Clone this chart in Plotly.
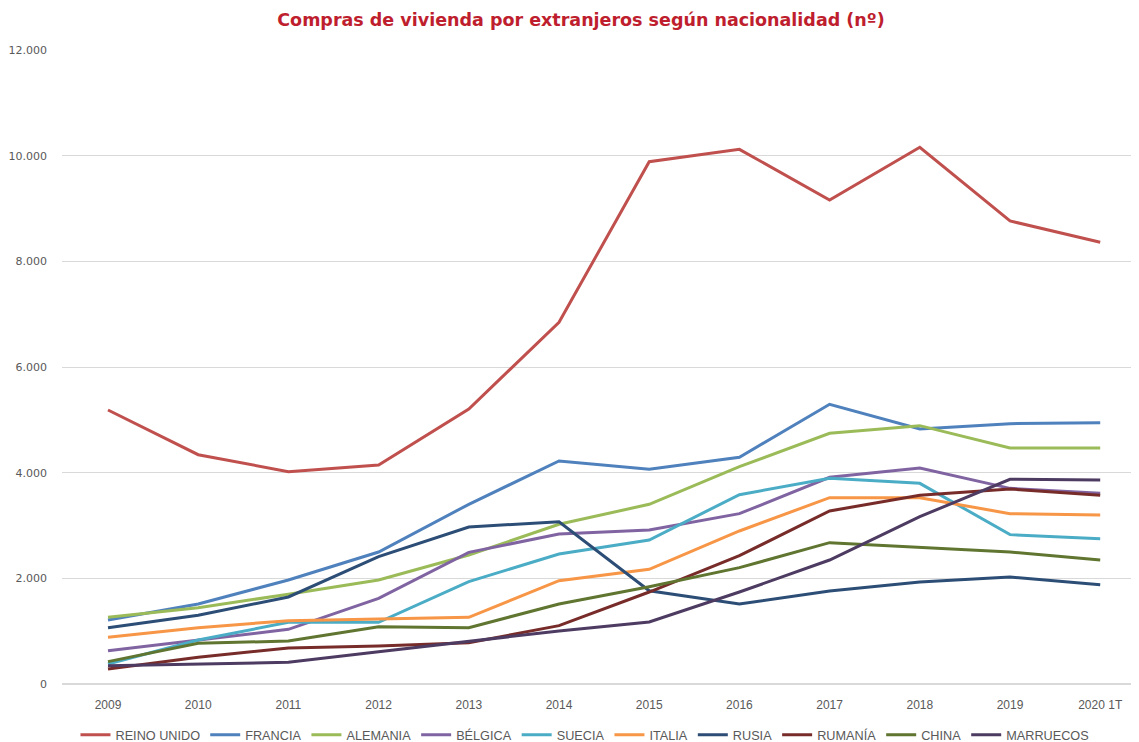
import plotly.graph_objects as go

years = ["2009", "2010", "2011", "2012", "2013", "2014", "2015", "2016", "2017", "2018", "2019", "2020 1T"]

reino_unido = [5186, 4340, 4019, 4145, 5205, 6846, 9886, 10120, 9161, 10158, 8764, 8360]
francia = [1211, 1514, 1969, 2498, 3401, 4221, 4064, 4291, 5294, 4827, 4927, 4946]
alemania = [1262, 1445, 1698, 1969, 2442, 3023, 3401, 4113, 4745, 4890, 4467, 4467]
belgica = [631, 833, 1035, 1621, 2492, 2839, 2915, 3224, 3912, 4088, 3703, 3609]
suecia = [379, 833, 1167, 1167, 1937, 2461, 2726, 3584, 3893, 3798, 2827, 2751]
italia = [884, 1066, 1199, 1230, 1262, 1956, 2171, 2896, 3527, 3527, 3224, 3199]
rusia = [1066, 1300, 1647, 2410, 2972, 3072, 1766, 1514, 1760, 1931, 2025, 1880]
rumania = [284, 505, 681, 719, 782, 1104, 1741, 2429, 3275, 3572, 3691, 3572]
china = [423, 770, 814, 1085, 1066, 1514, 1842, 2202, 2675, 2587, 2498, 2347]
marruecos = [347, 379, 410, 612, 801, 1003, 1174, 1741, 2347, 3167, 3875, 3862]

series = [
    ("REINO UNIDO", reino_unido, "#C0504D"),
    ("FRANCIA", francia, "#4F81BD"),
    ("ALEMANIA", alemania, "#9BBB59"),
    ("BÉLGICA", belgica, "#8064A2"),
    ("SUECIA", suecia, "#4BACC6"),
    ("ITALIA", italia, "#F79646"),
    ("RUSIA", rusia, "#2C4D75"),
    ("RUMANÍA", rumania, "#772C2A"),
    ("CHINA", china, "#5F7530"),
    ("MARRUECOS", marruecos, "#4D3B62"),
]

fig = go.Figure()
for name, vals, col in series:
    fig.add_trace(go.Scatter(
        x=list(range(len(years))), y=vals, name=name, mode="lines",
        line=dict(color=col, width=3),
    ))

fig.update_layout(
    width=1131, height=734,
    paper_bgcolor="white", plot_bgcolor="white",
    separators=",.",
    margin=dict(l=54, r=0, t=42, b=58, autoexpand=False),
    title=dict(
        text="<b>Compras de vivienda por extranjeros según nacionalidad (nº)</b>",
        x=0.5066, xanchor="center", xref="container", y=0.984, yanchor="middle",
        font=dict(family="DejaVu Sans", size=17.5, color="#BE1E2D"),
    ),
    xaxis=dict(
        tickmode="array", tickvals=list(range(len(years))), ticktext=years,
        range=[-0.51, 11.43], showgrid=False, zeroline=False,
        showline=False, ticks="", automargin=False, ticklabelstandoff=12,
        tickfont=dict(family="Liberation Sans", size=12, color="#595959"),
    ),
    yaxis=dict(
        range=[0, 12000], tickvals=[0, 2000, 4000, 6000, 8000, 10000, 12000],
        tickformat=",d", showgrid=True, gridcolor="#D9D9D9", gridwidth=1,
        zeroline=True, zerolinecolor="#D9D9D9", zerolinewidth=2,
        ticks="", ticklabelstandoff=14, automargin=False,
        tickfont=dict(family="DejaVu Sans", size=11, color="#595959"),
    ),
    legend=dict(
        orientation="h", x=0.4856, xanchor="center", y=-0.0804, yanchor="middle",
        font=dict(family="Liberation Sans", size=12.7, color="#595959"),
        itemwidth=30, tracegroupgap=0,
    ),
)

fig.write_html("out.html")
